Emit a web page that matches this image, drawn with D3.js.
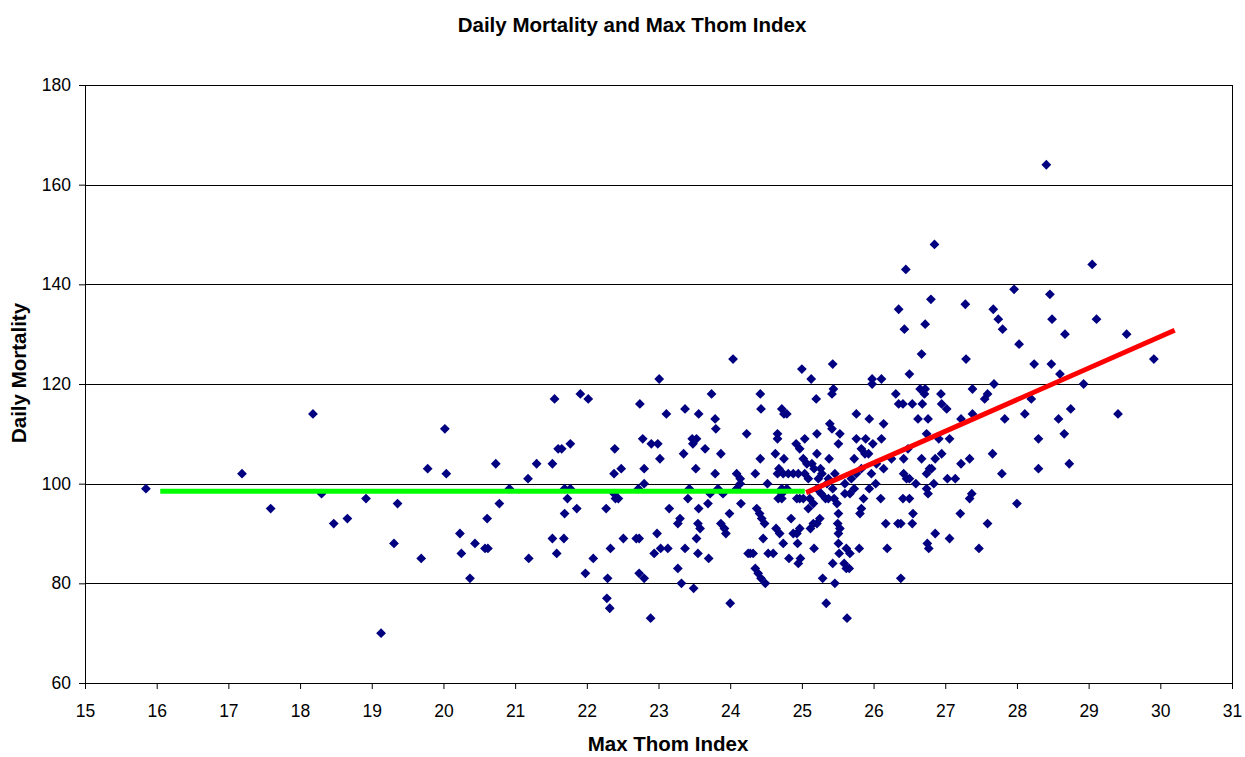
<!DOCTYPE html>
<html>
<head>
<meta charset="utf-8">
<script src="https://cdn.jsdelivr.net/npm/d3@7"></script>
<style>
  body { margin: 0; background: #fff; }
  svg { display: block; font-family: "Liberation Sans", Arial, sans-serif; }
</style>
</head>
<body>
<div id="chart"></div>
<script>
// Max Thom Index for each day (x)
var thomIndex = [
  15.85,17.19,17.59,18.18,18.30,18.47,18.66,18.92,19.36,19.31,
  19.69,19.78,19.13,20.02,20.04,20.23,20.25,20.37,20.44,20.58,
  20.62,20.61,20.73,20.78,20.92,21.18,21.19,21.30,21.52,21.55,
  21.52,21.58,21.60,21.65,21.68,21.69,21.69,21.77,21.73,21.77,
  21.86,21.91,22.02,21.98,22.09,22.27,22.29,22.28,22.32,22.33,
  22.38,22.39,22.48,22.40,22.44,22.38,22.51,24.04,23.01,23.74,
  22.74,23.11,23.37,23.56,23.79,23.80,24.23,22.78,22.90,22.99,
  23.47,23.53,23.48,23.65,23.35,23.87,23.02,22.80,23.52,23.79,
  24.09,24.14,22.80,22.72,23.43,23.83,24.09,23.41,23.72,23.90,
  23.15,23.56,23.69,24.15,23.30,23.27,23.55,23.58,23.99,23.87,
  23.92,23.94,22.69,22.73,22.98,23.53,22.94,23.03,23.13,23.37,
  23.55,23.70,24.25,23.27,22.73,22.80,23.32,23.49,24.00,22.89,
  25.00,25.43,25.13,24.42,25.20,25.44,25.42,24.43,24.72,24.75,
  24.79,25.39,25.42,24.66,24.66,25.21,25.04,24.92,24.97,25.51,
  24.63,25.21,24.42,24.75,25.02,25.07,25.38,25.14,25.17,24.68,
  24.66,24.74,24.81,24.88,24.95,25.04,25.09,24.35,25.26,25.28,
  25.23,24.14,24.52,25.37,25.35,24.72,24.79,25.46,24.67,24.72,
  24.72,24.93,24.97,25.02,25.21,25.27,25.33,25.37,25.16,25.11,
  25.43,25.45,25.49,25.09,24.37,24.41,24.44,24.48,24.85,25.25,
  25.21,25.16,25.12,25.50,24.64,24.69,24.97,24.93,24.88,24.46,
  24.74,24.94,25.51,24.28,24.32,24.53,24.60,25.17,24.82,24.98,
  24.95,25.43,24.35,24.39,24.43,25.29,24.49,25.46,25.34,26.85,
  26.45,26.80,26.35,26.43,26.72,26.67,25.98,26.11,25.98,26.50,
  26.31,26.35,26.41,26.54,26.65,26.72,26.71,26.68,25.76,25.94,
  26.14,26.62,26.76,25.53,26.74,25.76,25.89,26.11,25.83,25.88,
  25.93,25.99,26.48,26.91,25.73,26.25,26.42,26.67,26.86,26.04,
  26.14,25.83,25.76,25.97,26.81,26.78,26.74,26.42,26.46,26.50,
  26.59,25.60,25.69,25.73,25.67,26.03,25.94,26.74,26.76,25.60,
  25.86,26.10,26.41,26.50,25.83,25.81,25.51,26.55,26.17,26.34,
  26.38,26.54,25.53,25.51,26.86,26.75,26.77,26.19,25.52,25.62,
  25.67,25.80,25.59,25.62,25.66,26.38,25.63,28.41,29.05,27.96,
  28.46,27.28,27.67,27.74,27.80,28.49,29.11,28.67,29.53,28.03,
  27.29,28.24,28.48,28.60,29.91,28.93,27.68,27.38,27.59,27.55,
  26.94,26.95,27.02,28.20,28.75,27.38,27.22,27.83,28.11,28.58,
  29.41,28.66,27.06,28.30,26.95,27.66,27.34,27.22,28.73,28.30,
  27.79,27.03,27.14,26.84,27.37,27.34,28.00,27.21,27.59,27.06,
  27.47
];

// Daily mortality for each day (y)
var mortality = [
  99,102,95,114,98,92,93,97,96,88,
  85,103,70,111,102,90,86,81,88,87,
  87,93,104,96,99,101,85,104,104,117,
  89,86,107,107,89,94,99,99,97,108,
  95,118,117,82,85,95,81,77,75,87,
  102,107,103,97,97,98,89,125,121,118,
  116,114,115,114,113,111,110,109,108,108,
  109,109,108,107,106,106,105,103,103,102,
  102,101,100,99,99,99,99,97,98,98,
  95,95,96,96,93,92,92,91,94,92,
  91,90,89,89,90,89,86,87,87,87,
  86,85,86,83,82,81,80,79,76,73,
  123,124,121,118,117,119,118,115,115,114,
  114,112,111,110,109,110,109,108,107,108,
  106,106,105,105,105,104,105,104,103,103,
  102,102,102,102,102,102,101,102,103,102,
  101,100,100,101,100,99,99,102,97,97,
  98,97,97,97,99,98,97,97,96,97,
  99,97,96,95,95,94,93,92,93,93,
  92,92,91,92,91,90,91,90,90,89,
  88,88,88,86,86,86,86,87,85,85,
  84,84,83,82,81,81,80,80,76,148,
  143,137,135,131,132,126,121,121,120,122,
  118,116,116,116,119,119,118,116,114,113,
  112,113,113,110,110,109,109,109,107,106,
  106,108,107,109,105,105,105,105,105,104,
  103,103,102,102,103,103,102,102,101,101,
  100,100,101,99,98,100,99,99,98,98,
  97,97,97,97,95,94,94,94,92,92,
  92,92,91,90,90,88,87,87,86,87,
  86,87,84,83,83,81,73,164,144,139,
  138,136,135,133,131,133,133,130,130,128,
  125,124,124,122,125,120,120,119,118,117,
  118,116,115,117,115,114,113,113,114,113,
  114,110,109,109,106,106,105,104,104,103,
  102,101,101,100,98,97,96,94,92,89,
  87
];

// flat fit below threshold, rising fit above
var flatFitX = [16.05, 25.04];
var flatFitY = [98.5, 98.5];
var riseFitX = [25.06, 30.2];
var riseFitY = [98.2, 130.8];

var xTicks = d3.range(15, 32, 1);
var yTicks = [60, 80, 100, 120, 140, 160, 180];

var data = thomIndex.map(function(d, i) {
  return {x: d, y: mortality[i]};
});

var margin = {top: 85, right: 13, bottom: 74, left: 85},
    width = 1245 - margin.left - margin.right,
    height = 757 - margin.top - margin.bottom;

var svg = d3.select("#chart")
  .append("svg")
    .attr("width", 1245)
    .attr("height", 757);

var g = svg.append("g")
    .attr("transform", "translate(" + margin.left + "," + margin.top + ")");

var x = d3.scaleLinear().domain([15, 31]).range([0, width]);
var y = d3.scaleLinear().domain([60, 180]).range([height, 0]);

// gridlines
g.selectAll(".grid")
  .data(yTicks.slice(1))
  .enter()
  .append("line")
    .attr("x1", 0)
    .attr("x2", width)
    .attr("y1", function(d) { return Math.round(y(d)) + 0.5; })
    .attr("y2", function(d) { return Math.round(y(d)) + 0.5; })
    .attr("stroke", "#000")
    .attr("stroke-width", 1);

// right border
g.append("line")
  .attr("x1", Math.round(width) + 0.5).attr("x2", Math.round(width) + 0.5)
  .attr("y1", 0).attr("y2", height)
  .attr("stroke", "#000");

// axes
var xAxis = g.append("g")
  .attr("transform", "translate(0," + height + ")")
  .call(d3.axisBottom(x).tickValues(xTicks).tickSize(6).tickPadding(16).tickSizeOuter(0));
var yAxis = g.append("g")
  .call(d3.axisLeft(y).tickValues(yTicks).tickSize(6).tickPadding(8).tickSizeOuter(0));

[xAxis, yAxis].forEach(function(a) {
  a.select(".domain").attr("stroke", "#000");
  a.selectAll(".tick line").attr("stroke", "#000");
  a.selectAll("text")
    .attr("fill", "#000")
    .style("font-size", "17.5px")
    .style("font-family", "'Liberation Sans', Arial, sans-serif");
});

// points
g.selectAll(".dot")
  .data(data)
  .enter()
  .append("path")
    .attr("d", d3.symbol().type(d3.symbolSquare).size(48))
    .attr("transform", function(d) {
      return "translate(" + x(d.x) + "," + y(d.y) + ") rotate(45)";
    })
    .attr("fill", "#000080");

// fit lines
var fitLine = d3.line()
  .x(function(d) { return x(d[0]); })
  .y(function(d) { return y(d[1]); });

g.append("path")
  .datum(d3.zip(flatFitX, flatFitY))
  .attr("fill", "none")
  .attr("stroke", "#00ff00")
  .attr("stroke-width", 5)
  .attr("d", fitLine);

g.append("path")
  .datum(d3.zip(riseFitX, riseFitY))
  .attr("fill", "none")
  .attr("stroke", "#ff0000")
  .attr("stroke-width", 5)
  .attr("d", fitLine);

// title and axis labels
svg.append("text")
  .attr("x", 632)
  .attr("y", 32)
  .attr("text-anchor", "middle")
  .style("font-size", "20.5px")
  .style("font-weight", "bold")
  .text("Daily Mortality and Max Thom Index");

svg.append("text")
  .attr("x", 668)
  .attr("y", 751)
  .attr("text-anchor", "middle")
  .style("font-size", "20.5px")
  .style("font-weight", "bold")
  .text("Max Thom Index");

svg.append("text")
  .attr("transform", "translate(26,373) rotate(-90)")
  .attr("text-anchor", "middle")
  .style("font-size", "20.5px")
  .style("font-weight", "bold")
  .text("Daily Mortality");
</script>
</body>
</html>
